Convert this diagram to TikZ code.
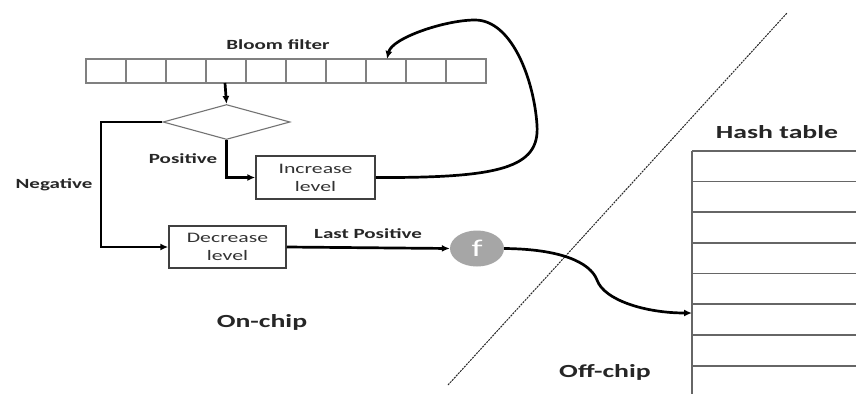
\documentclass[tikz,border=0pt]{standalone}
\usepackage{fontspec}
\setmainfont{Carlito}
\usepackage{graphicx}
\usetikzlibrary{arrows.meta,shapes.geometric}
\newcommand{\wx}[1]{\scalebox{1.5}[1]{#1}}
\begin{document}
\begin{tikzpicture}[x=1pt,y=-1pt,
  conn/.style={line width=2.7pt,-{Latex[length=8pt,width=7pt]}},
  cell/.style={draw=black!50,line width=1.3pt,minimum width=40pt,minimum height=24pt,inner sep=0pt},
  box/.style={draw=black!75,line width=1.5pt,inner sep=0pt,align=center,text=black!80,font=\fontsize{14.5}{18}\selectfont},
  lbl/.style={inner sep=0pt,text=black!85,font=\bfseries\fontsize{14}{16}\selectfont},
  big/.style={inner sep=0pt,text=black!85,font=\bfseries\fontsize{18.5}{20}\selectfont},
  tbl/.style={draw=black!60,line width=1.1pt}]
\useasboundingbox (0,0) rectangle (856,394);
\fill[white] (0,0) rectangle (856,394);
% Bloom filter
\foreach \i in {1,...,10}{
  \node[cell] (b\i) at ({86+20+40*(\i-1)},71) {};
}
\node[lbl] (bflbl) at (278,45) {\wx{Bloom filter}};
% diamond
\node[diamond,draw=black!55,line width=1.1pt,minimum width=127pt,minimum height=35pt,inner sep=0pt,aspect=3.6] (dia) at (226.5,122) {};
\draw[conn] (225,83) coordinate (bfout) -- (dia.north);
% boxes
\node[box,minimum width=119pt,minimum height=43pt] (inc) at (315.5,177.5) {\wx{Increase}\\\wx{level}};
\node[box,minimum width=117pt,minimum height=42pt] (dec) at (227.5,247) {\wx{Decrease}\\\wx{level}};
\node[ellipse,fill=black!35,minimum width=54pt,minimum height=36pt,inner sep=0pt,text=white,font=\fontsize{24}{26}\selectfont] (f) at (477,248.5) {\wx{f}};
% connectors
\draw[conn] (dia.south) |- (inc.west);
\draw[conn] (dia.west) -- (101,122) |- (dec.west);
\draw[conn] (dec.east) -- (f.west);
\coordinate (bin) at (387,59);
\draw[conn] (inc.east) .. controls (500,178) and (540,168) .. (537,125)
  .. controls (534,80) and (512,20) .. (475,20)
  .. controls (445,20) and (392,38) .. (bin);
% labels
\node[lbl] at (183,159) {\wx{Positive}};
\node[lbl] at (54,185) {\wx{Negative}};
\node[lbl] at (368,234) {\wx{Last Positive}};
\node[big] at (262,322) {\wx{On-chip}};
\node[big] at (605,372) {\wx{Off-chip}};
\node[big] (htlbl) at (777,132) {\wx{Hash table}};
% dashed divider
\draw[black!85,line width=1pt,dash pattern=on 2pt off 1pt] (448,385) -- (787,13);
% hash table
\draw[tbl] (692,151) -- (692,394);
\foreach \y in {151,181.5,212,243,273.5,304,335,366}{
  \draw[tbl] (692,\y) -- (856,\y);
}
\coordinate (htin) at (692,313);
\draw[conn] (f.east) .. controls (560,249) and (590,262) .. (597,280)
  .. controls (604,300) and (645,313) .. (htin);
\end{tikzpicture}
\end{document}
